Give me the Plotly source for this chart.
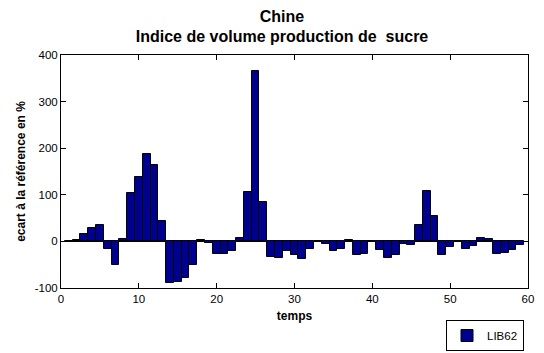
import plotly.graph_objects as go

temps = list(range(1, 60))
ecart = [0.5, 3, 15, 28, 35, -16, -50, 5, 104, 139,
         187, 164, 43, -90, -87, -79, -50, 4, -4, -27,
         -28, -21, 8, 106, 365, 84, -33, -35, -21, -30,
         -37, -16, 1.5, -5, -21, -17, 2, -30, -28, 0,
         -18, -35, -30, -6, -8, 35, 109, 55, -30, -12,
         0, -16, -10, 7, 5, -28, -24, -19, -7]
serie = "LIB62"
x_ticks = [0, 10, 20, 30, 40, 50, 60]
y_ticks = [-100, 0, 100, 200, 300, 400]

FONT = "Liberation Sans, Arial, sans-serif"
W, H = 536, 345  # page body has an 8px margin

fig = go.Figure()
fig.add_trace(go.Bar(
    x=temps, y=ecart, name=serie, width=1,
    marker=dict(color="#00008F", line=dict(color="black", width=1)),
    showlegend=True,
))

fig.update_layout(
    width=W, height=H,
    margin=dict(l=53, r=16, t=47, b=65, autoexpand=False),
    paper_bgcolor="white", plot_bgcolor="white",
    font=dict(family=FONT, size=11.5, color="black"),
    title=dict(
        text="<b>Chine</b><br><b>Indice de volume production de\u00a0 sucre</b>",
        x=274 / W, xanchor="center", xref="container",
        y=1 - 13.5 / H, yanchor="middle", yref="container",
        font=dict(family=FONT, size=16, color="black"),
    ),
    bargap=0,
    showlegend=True,
    legend=dict(
        x=516 / W, xanchor="right", xref="container",
        y=1 - 312 / H, yanchor="top", yref="container",
        bordercolor="black", borderwidth=1, bgcolor="white",
        font=dict(family=FONT, size=11.5, color="black"),
        itemwidth=30, tracegroupgap=0,
    ),
)
fig.update_xaxes(
    range=[0, 60], tickvals=x_ticks, ticktext=[str(v) for v in x_ticks],
    showline=True, linecolor="black", linewidth=1, mirror="ticks",
    ticks="inside", ticklen=5, tickcolor="black",
    showgrid=False, zeroline=False, automargin=False,
    title=dict(text="<b>temps</b>", font=dict(family=FONT, size=12), standoff=7),
)
fig.update_yaxes(
    range=[-100, 400], tickvals=y_ticks, ticktext=[str(v) for v in y_ticks],
    showline=True, linecolor="black", linewidth=1, mirror="ticks",
    ticks="inside", ticklen=5, tickcolor="black",
    showgrid=False, zeroline=True, zerolinecolor="black", zerolinewidth=1,
    automargin=False,
    title=dict(text="<b>ecart à la référence en %</b>", font=dict(family=FONT, size=12), standoff=6),
)

fig.write_html("out.html")
